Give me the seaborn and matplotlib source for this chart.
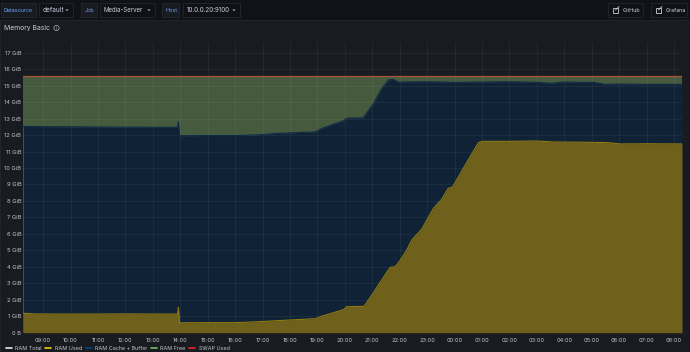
import numpy as np
import pandas as pd
import seaborn as sns
import matplotlib.pyplot as plt
from matplotlib.patches import Rectangle

sns.set_style('dark')
plt.rcParams['font.family'] = ['Inter', 'DejaVu Sans']

W, H = 690, 352

tick_hours = list(range(9, 33))
tick_labels = ['09:00', '10:00', '11:00', '12:00', '13:00', '14:00', '15:00', '16:00',
               '17:00', '18:00', '19:00', '20:00', '21:00', '22:00', '23:00', '00:00',
               '01:00', '02:00', '03:00', '04:00', '05:00', '06:00', '07:00', '08:00']
y_ticks = list(range(0, 18))
y_labels = ['0 B'] + ['{} GiB'.format(i) for i in range(1, 18)]

used_hours = [8.28, 8.7, 10, 12, 13.9, 13.93, 13.97, 15, 16, 16.89, 17.52, 18.92, 19.17, 19.95, 20.07, 20.7,
              21.03, 21.3, 21.65, 21.83, 22.0, 22.26, 22.44, 22.8, 23.23, 23.53, 23.77, 23.92, 24.5, 24.87, 25.0,
              26, 27, 27.6, 28.5, 29.6, 30.04, 31, 32.29]
used_gib = [1.18, 1.14, 1.13, 1.14, 1.13, 1.54, 0.6, 0.61, 0.61, 0.67, 0.73, 0.85, 1.01, 1.4, 1.58, 1.6,
            2.4, 3.1, 3.97, 4.0, 4.35, 5.03, 5.63, 6.28, 7.55, 8.1, 8.77, 8.83, 10.5, 11.54, 11.62,
            11.62, 11.64, 11.58, 11.57, 11.54, 11.46, 11.47, 11.46]

stack_hours = [8.28, 10, 12, 13.9, 13.93, 13.97, 15, 16, 16.89, 17.52, 18.92, 19.17, 19.95, 20.07, 20.67,
               21.04, 21.35, 21.6, 21.75, 21.95, 23, 24, 25, 26, 27, 27.5, 28, 28.6, 29.05, 29.5, 30, 31, 32.29]
stack_gib = [12.52, 12.5, 12.48, 12.47, 12.81, 11.96, 11.97, 11.97, 12.02, 12.1, 12.19, 12.41, 12.87, 13.03, 13.05,
             13.9, 14.85, 15.35, 15.38, 15.22, 15.24, 15.2, 15.22, 15.24, 15.2, 15.14, 15.22, 15.2, 15.2, 15.08,
             15.1, 15.08, 15.08]

total_hours = [8.28, 32.29]
total_gib = [15.58, 15.58]

legend_names = ['RAM Total', 'RAM Used', 'RAM Cache + Buffer', 'RAM Free', 'SWAP Used']
legend_colors = ['#e8e8e8', '#f2cc0c', '#0a437c', '#73bf69', '#f2242f']
legend_swatch_x = [6, 45, 86, 151, 189]
legend_text_x = [15, 55, 95, 160, 199]

fig = plt.figure(figsize=(W / 100, H / 100), dpi=100, facecolor='#111217')

# page furniture, in pixel coordinates
bg = fig.add_axes([0, 0, 1, 1])
bg.set_xlim(0, W)
bg.set_ylim(H, 0)
bg.axis('off')
bg.add_patch(Rectangle((0, 20), W, H - 20, fc='#181b1f', ec='#24272c', lw=0.6))


def box(x, w, fc='#111217', ec='#24272c'):
    bg.add_patch(Rectangle((x, 3), w, 14, fc=fc, ec=ec, lw=0.6))


box(1, 35, fc='#181b1f')
box(39, 34)
box(81, 16, fc='#181b1f')
box(100, 55)
box(162, 17, fc='#181b1f')
box(183, 57)
box(608, 35)
box(651, 36)
for x, s, c, fs in [(4, 'Datasource', '#6e9fff', 3.9), (43, 'default', '#ccccdc', 4.7), (85, 'Job', '#6e9fff', 3.9),
                    (104, 'Media-Server', '#ccccdc', 4.4), (166, 'Host', '#6e9fff', 3.9),
                    (187, '10.0.0.20:9100', '#ccccdc', 4.5),
                    (622.5, 'GitHub', '#ccccdc', 3.9), (665.5, 'Grafana', '#ccccdc', 3.9)]:
    bg.text(x, 10.3, s, color=c, fontsize=fs, va='center', ha='left')
for x in [67, 149, 234]:
    bg.plot([x - 1, x, x + 1], [9.5, 10.7, 9.5], color='#ccccdc', lw=0.5)
for x in [613, 656]:
    bg.add_patch(Rectangle((x, 8), 4.5, 4.5, fc='none', ec='#ccccdc', lw=0.6))
    bg.plot([x + 2.5, x + 6], [10, 6.5], color='#ccccdc', lw=0.6)
bg.text(4, 28, 'Memory Basic', color='#ccccdc', fontsize=4.9, va='center', ha='left')
bg.add_patch(plt.Circle((56.5, 28), 2.6, fc='none', ec='#b0b2bc', lw=0.5))
bg.text(56.5, 28, 'i', color='#b0b2bc', fontsize=3.2, va='center', ha='center')

# plot area
left, right, top, bottom = 23.4, 682, 42, 332.7
ax = fig.add_axes([left / W, 1 - bottom / H, (right - left) / W, (bottom - top) / H], facecolor='#181b1f')

used = pd.DataFrame({'hour': used_hours, 'gib': used_gib})
stack = pd.DataFrame({'hour': stack_hours, 'gib': stack_gib})
total = pd.DataFrame({'hour': total_hours, 'gib': total_gib})

ax.fill_between(total['hour'], total['gib'], color='#465a3e', lw=0, zorder=1)
ax.fill_between(stack['hour'], stack['gib'], color='#102236', lw=0, zorder=2)
ax.fill_between(used['hour'], used['gib'], color='#6f611b', lw=0, zorder=3)

ax.grid(True, color='#ffffff', alpha=0.06, lw=0.6, zorder=4)
ax.set_axisbelow(False)

sns.lineplot(data=stack, x='hour', y='gib', color='#0e2a4a', lw=0.8, ax=ax, zorder=5)
sns.lineplot(data=used, x='hour', y='gib', color='#8f7b12', lw=0.8, ax=ax, zorder=6)
sns.lineplot(data=total, x='hour', y='gib', color='#a8553a', lw=0.9, ax=ax, zorder=7)

ax.set_xlim(8.28, 32.29)
ax.set_ylim(0, (bottom - top) / 16.47)
ax.set_xticks(tick_hours)
ax.set_xticklabels(tick_labels)
ax.set_yticks(y_ticks)
ax.set_yticklabels(y_labels)
ax.set_xlabel('')
ax.set_ylabel('')
ax.tick_params(axis='x', colors='#c3c4cc', labelsize=4.1, length=0, pad=3.5)
ax.tick_params(axis='y', colors='#c3c4cc', labelsize=4.1, length=0, pad=1.5)
for s in ax.spines.values():
    s.set_visible(False)

# legend row
for sx, tx, name, c in zip(legend_swatch_x, legend_text_x, legend_names, legend_colors):
    bg.plot([sx, sx + 6], [348, 348], color=c, lw=1.2, solid_capstyle='round')
    bg.text(tx, 348, name, color='#c3c4cc', fontsize=3.9, va='center', ha='left')

fig.savefig('out.png', dpi=100, facecolor=fig.get_facecolor())
